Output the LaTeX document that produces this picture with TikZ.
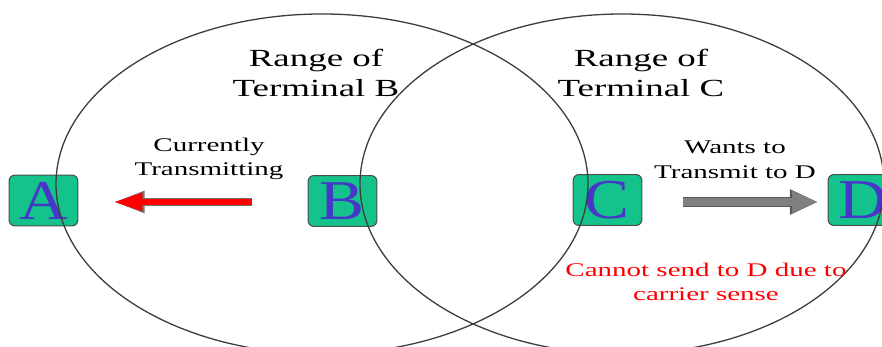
\documentclass[tikz,border=0pt]{standalone}
\usepackage{fontspec}
\setmainfont{Liberation Serif}
\newfontfamily\widefont[FakeStretch=1.5]{Liberation Serif}
\newfontfamily\letterfont[FakeStretch=1.2]{Liberation Serif}
\usetikzlibrary{arrows.meta, positioning}
\definecolor{termgreen}{RGB}{20,195,140}
\definecolor{letterblue}{RGB}{70,55,200}
\definecolor{rangegrey}{RGB}{60,60,60}

\tikzset{
  terminal/.style={draw=black!70, line width=0.9pt, fill=termgreen, rounded corners=5pt,
    minimum width=58.7pt, minimum height=43.4pt, inner sep=0pt,
    text=letterblue, font=\letterfont\fontsize{48}{48}\selectfont},
  rangeline/.style={draw=rangegrey, line width=1.1pt},
  bigtext/.style={align=center, font=\widefont\fontsize{21}{25.5}\selectfont},
  smalltext/.style={align=center, font=\widefont\fontsize{16.5}{21}\selectfont},
  redarrow/.style={draw=red, line width=5.5pt, -{Triangle[length=25pt, width=14pt]},
    preaction={draw=black!55, line width=7pt, -{Triangle[length=27pt, width=17pt]}}},
  greyarrow/.style={draw=gray, line width=7pt, -{Triangle[length=22pt, width=17pt]},
    preaction={draw=black!65, line width=8.5pt, -{Triangle[length=24pt, width=20pt]}}}
}

\begin{document}
\begin{tikzpicture}[x=0.03cm, y=-0.03cm]
\useasboundingbox (0,0) rectangle (882,347);

% the four terminals
\node[terminal] (a) at (43.5, 200.5) {A};
\node[terminal] (b) at (342.5, 201) {B};
\node[terminal] (c) at (607.5, 200) {C};
\node[terminal] (d) at (862.5, 200) {D};

% ranges of B and C
\draw[rangeline] (322, 184) ellipse [x radius=266, y radius=170];
\draw[rangeline] (622, 184) ellipse [x radius=262, y radius=170];

\node[bigtext] (rangeb) at (316, 73) {Range of\\Terminal B};
\node[bigtext] (rangec) at (641, 73) {Range of\\Terminal C};

\node[smalltext] (current) at (209, 159) {Currently\\Transmitting};
\node[smalltext] (wants) at (735, 160) {Wants to\\Transmit to D};
\node[smalltext, text=red] (sense) at (706, 282) {Cannot send to D due to\\carrier sense};

% arrows
\coordinate (redtail) at (252, 202);
\coordinate (redtip) at (113, 202);
\coordinate (greytail) at (683, 202);
\coordinate (greytip) at (818, 202);
\draw[redarrow] (redtail) -- (redtip);
\draw[greyarrow] (greytail) -- (greytip);
\end{tikzpicture}
\end{document}
